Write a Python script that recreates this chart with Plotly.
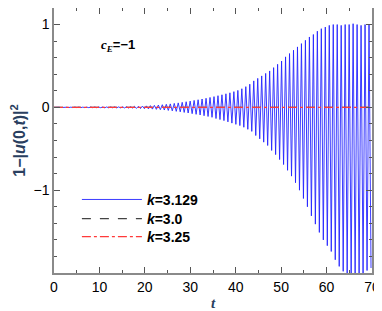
import plotly.graph_objects as go

# ---- data ----
period = 0.875          # oscillation period in t
t_max = 70
# successive maxima of the k=3.129 curve (one per oscillation)
upper_peaks = [
    0.002, 0.002, 0.002, 0.002, 0.003, 0.003, 0.003, 0.003, 0.003, 0.004,
    0.004, 0.004, 0.005, 0.005, 0.005, 0.006, 0.006, 0.007, 0.008, 0.008,
    0.012, 0.014, 0.016, 0.018, 0.021, 0.024, 0.028, 0.032, 0.037, 0.042,
    0.048, 0.054, 0.061, 0.068, 0.076, 0.084, 0.092, 0.101, 0.110, 0.120,
    0.130, 0.141, 0.152, 0.164, 0.176, 0.190, 0.205, 0.225, 0.250, 0.280,
    0.32, 0.35, 0.38, 0.41, 0.44, 0.48, 0.52, 0.56, 0.61, 0.65,
    0.69, 0.73, 0.77, 0.81, 0.85, 0.88, 0.92, 0.95, 0.97, 0.99,
    1.00, 1.00, 0.99, 1.00, 1.00, 1.01, 1.00, 0.99, 1.00, 1.00,
]
# successive minima of the k=3.129 curve
lower_troughs = [
    -0.002, -0.002, -0.002, -0.002, -0.003, -0.003, -0.003, -0.003, -0.003, -0.004,
    -0.004, -0.004, -0.005, -0.005, -0.005, -0.006, -0.006, -0.007, -0.008, -0.008,
    -0.012, -0.014, -0.016, -0.018, -0.021, -0.024, -0.028, -0.032, -0.037, -0.042,
    -0.048, -0.054, -0.061, -0.068, -0.076, -0.084, -0.092, -0.101, -0.110, -0.120,
    -0.135, -0.147, -0.160, -0.175, -0.190, -0.205, -0.220, -0.240, -0.265, -0.290,
    -0.34, -0.38, -0.42, -0.46, -0.52, -0.57, -0.63, -0.69, -0.76, -0.83,
    -0.91, -1.00, -1.10, -1.20, -1.31, -1.41, -1.51, -1.60, -1.67, -1.74,
    -1.84, -1.92, -1.98, -2.02, -2.05, -2.05, -2.04, -2.01, -1.97, -1.94,
]
stable_t = [0, 70]
stable_k30 = [0, 0]
stable_k325 = [0, 0]

# build the oscillating series from the listed extrema
t_osc = [0.0]
y_osc = [0.0]
for i, (hi, lo) in enumerate(zip(upper_peaks, lower_troughs)):
    t_osc.append(0.22 + period * i)
    y_osc.append(hi)
    t_osc.append(0.66 + period * i)
    y_osc.append(lo)

fig = go.Figure()
fig.add_trace(go.Scatter(x=t_osc, y=y_osc, mode="lines",
                         line=dict(color="#2525ff", width=0.9),
                         name="<b><i>k</i>=3.129</b>", legend="legend"))
fig.add_trace(go.Scatter(x=stable_t, y=stable_k30, mode="lines",
                         line=dict(color="#444444", width=1.2, dash="dash"),
                         name="<b><i>k</i>=3.0</b>", legend="legend2"))
fig.add_trace(go.Scatter(x=stable_t, y=stable_k325, mode="lines",
                         line=dict(color="#ff3a3a", width=1.2, dash="dashdot"),
                         name="<b><i>k</i>=3.25</b>", legend="legend3"))

axis_common = dict(showline=True, linecolor="#8a8a8a", linewidth=1.5, mirror="ticks",
                   ticks="inside", ticklen=6, tickcolor="#555555", tickwidth=1,
                   showgrid=False, zeroline=False, automargin=False,
                   tickfont=dict(family="Liberation Sans, Arial", size=14, color="black"))

fig.update_xaxes(range=[0, t_max], tickvals=[0, 10, 20, 30, 40, 50, 60, 70],
                 minor=dict(dtick=5, ticks="inside", ticklen=3, tickcolor="#555555"),
                 title=dict(text="<b><i>t</i></b>", standoff=4,
                            font=dict(family="Liberation Serif, Times New Roman", size=15)),
                 **axis_common)
fig.update_yaxes(range=[-2, 1.2], tickvals=[-1, 0, 1],
                 minor=dict(dtick=0.2, ticks="inside", ticklen=3, tickcolor="#555555"),
                 title=dict(text="<b>1−|<i>u</i>(0,<i>t</i>)|<sup>2</sup></b>", standoff=8,
                            font=dict(family="Liberation Sans, Arial", size=16)),
                 **axis_common)

fig.add_annotation(xref="paper", yref="paper", x=0.14, y=0.86, showarrow=False,
                   xanchor="left", yanchor="middle",
                   text="<b><span style='font-family:Liberation Serif'><i>c</i><sub><i>E</i></sub></span>=−1</b>",
                   font=dict(family="Liberation Sans, Arial", size=13, color="black"))

leg_common = dict(x=0.072, xanchor="left", yanchor="middle",
                  bgcolor="rgba(0,0,0,0)", itemwidth=60,
                  font=dict(family="Liberation Sans, Arial", size=14, color="black"))

fig.update_layout(
    width=374, height=303,
    margin=dict(l=46, r=10, t=0, b=38),
    paper_bgcolor="white", plot_bgcolor="white",
    showlegend=True,
    legend=dict(y=0.276, **leg_common),
    legend2=dict(y=0.204, **leg_common),
    legend3=dict(y=0.136, **leg_common),
)

fig.write_html("out.html")
